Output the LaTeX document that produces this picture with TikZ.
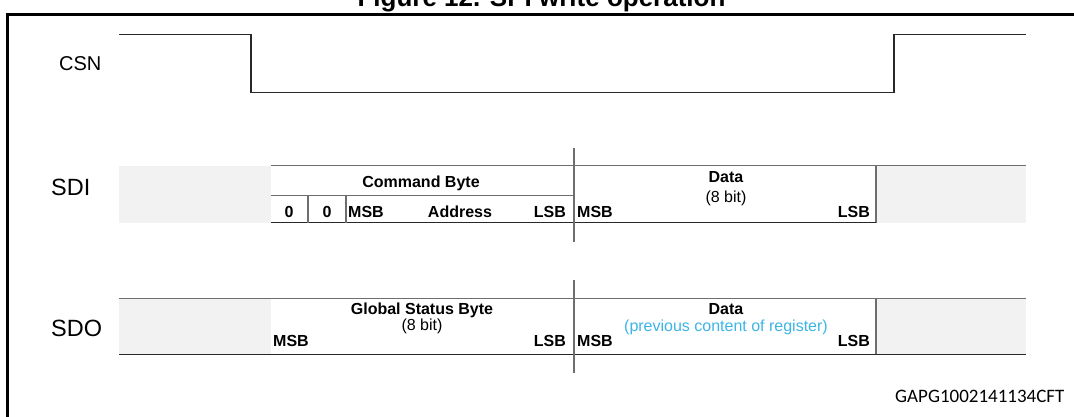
\documentclass[tikz,border=0pt]{standalone}
\usepackage{fontspec}
\setmainfont{Liberation Sans}
\newfontfamily\drawingIdFont{Carlito}
\usepackage{tikz}
\tikzstyle{timing} = [x = 1pt, y = -1pt, every node/.style={inner sep=0pt}]
\definecolor{idleColor}{RGB}{242,242,242}
\definecolor{edgeColor}{RGB}{110,110,110}
\definecolor{baseColor}{RGB}{40,40,40}
\definecolor{noteColor}{RGB}{60,180,230}
\tikzstyle{frameLine} = [color=black, line width=2.2pt]
\tikzstyle{waveLine} = [color=baseColor, line width=1.3pt]
\tikzstyle{edgeLine} = [color=edgeColor, line width=1.2pt]
\tikzstyle{bottomLine} = [color=baseColor, line width=1.3pt]
\tikzstyle{cutLine} = [color=edgeColor, line width=1.6pt]
\tikzstyle{idleStyle} = [fill=idleColor]
\tikzstyle{titleText} = [font=\fontsize{26}{30}\selectfont\bfseries, anchor=base]
\tikzstyle{signalText} = [font=\fontsize{20}{24}\selectfont, anchor=base west]
\tikzstyle{busText} = [font=\fontsize{23.5}{28}\selectfont, anchor=base west]
\tikzstyle{fieldText} = [font=\fontsize{16}{19}\selectfont\bfseries, anchor=base]
\tikzstyle{noteText} = [font=\fontsize{16}{19}\selectfont, anchor=base]
\newcommand{\idleSlot}[4]{\fill [idleStyle] (#1, #2) rectangle (#3, #4);}
\newcommand{\byteCut}[3]{\draw [cutLine] (#1, #2) -- (#1, #3);}
\newcommand{\byteFrame}[2]{
  \idleSlot{119}{#1}{271}{#2}
  \idleSlot{876}{#1}{1026}{#2}
  \draw [edgeLine] (876, #1) -- (876, #2);
}

\begin{document}
\begin{tikzpicture}[timing]
    \useasboundingbox (0, 0) rectangle (1074, 417);
    \draw [frameLine] (7.5, 417) -- (7.5, 14.5) -- (1074, 14.5);
    \node [titleText] (title) at (541.5, 7) {Figure 12. SPI write operation};

    \node [signalText] (csn) at (59, 71) {CSN};
    \draw [waveLine] (119, 34.4) -- (251, 34.4) -- (251, 92.3) -- (894, 92.3) -- (894, 34.4) -- (1026, 34.4);

    \node [busText] (sdi) at (51, 195) {SDI};
    \byteFrame{165.7}{222.8}
    \draw [edgeLine] (271, 165.7) -- (1026, 165.7);
    \draw [bottomLine] (271, 222.8) -- (876, 222.8);
    \draw [edgeLine] (271, 195.7) -- (574, 195.7);
    \foreach \divider in {308, 346} {
      \draw [edgeLine] (\divider, 195.7) -- (\divider, 222.8);
    }
    \byteCut{574}{148}{242}
    \node [fieldText] (commandByte) at (421, 187.4) {Command Byte};
    \node [fieldText] (bitA) at (289, 217.4) {0};
    \node [fieldText] (bitB) at (327, 217.4) {0};
    \node [fieldText, anchor=base west] (addrMsb) at (348, 217.4) {MSB};
    \node [fieldText] (address) at (460, 217.4) {Address};
    \node [fieldText, anchor=base east] (addrLsb) at (566, 217.4) {LSB};
    \node [fieldText] (sdiData) at (726, 182.7) {Data};
    \node [noteText] (sdiBits) at (726, 203) {(8 bit)};
    \node [fieldText, anchor=base west] (sdiMsb) at (577, 217.7) {MSB};
    \node [fieldText, anchor=base east] (sdiLsb) at (870, 217.7) {LSB};

    \node [busText] (sdo) at (51, 336.5) {SDO};
    \byteFrame{298.3}{354.5}
    \draw [edgeLine] (119, 298.3) -- (1026, 298.3);
    \draw [bottomLine] (119, 354.5) -- (1026, 354.5);
    \byteCut{574}{280}{373}
    \node [fieldText] (statusByte) at (422, 314.7) {Global Status Byte};
    \node [noteText] (statusBits) at (422, 330.5) {(8 bit)};
    \node [fieldText, anchor=base west] (statusMsb) at (273, 346.7) {MSB};
    \node [fieldText, anchor=base east] (statusLsb) at (566, 346.7) {LSB};
    \node [fieldText] (sdoData) at (726, 314.7) {Data};
    \node [noteText, color=noteColor] (sdoNote) at (726, 331.5) {(previous content of register)};
    \node [fieldText, anchor=base west] (sdoMsb) at (577, 346.7) {MSB};
    \node [fieldText, anchor=base east] (sdoLsb) at (870, 346.7) {LSB};

    \node [font=\drawingIdFont\fontsize{19}{22}\selectfont, anchor=base west] (drawingId) at (895, 402) {GAPG1002141134CFT};
\end{tikzpicture}
\end{document}
